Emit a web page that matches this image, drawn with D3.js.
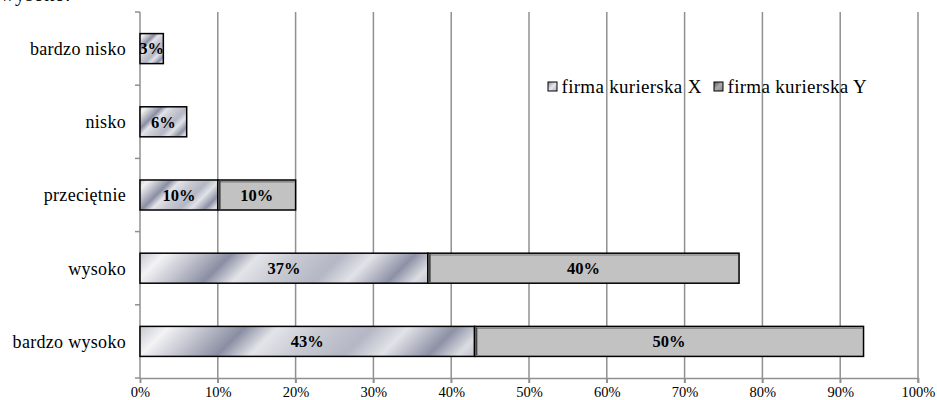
<!DOCTYPE html>
<html>
<head>
<meta charset="utf-8">
<script src="https://cdn.jsdelivr.net/npm/d3@7"></script>
<style>
  html, body { margin: 0; padding: 0; background: #fff; }
  svg { display: block; font-family: "Liberation Serif", "Times New Roman", serif; }
</style>
</head>
<body>
<svg id="chart" width="937" height="400"></svg>
<script>
// Ocena poziomu usług firm kurierskich
const categories = ["bardzo nisko", "nisko", "przeciętnie", "wysoko", "bardzo wysoko"];
const seriesNames = ["firma kurierska X", "firma kurierska Y"];
const valuesX = [3, 6, 10, 37, 43];
const valuesY = [0, 0, 10, 40, 50];
const tickValues = [0, 10, 20, 30, 40, 50, 60, 70, 80, 90, 100];

const svg = d3.select("#chart");
const margin = { left: 140, right: 19, top: 12, bottom: 22 };
const W = 937, H = 400;
const plotBottom = H - margin.bottom;

const x = d3.scaleLinear().domain([0, 100]).range([margin.left, W - margin.right]);
const y = d3.scaleBand().domain(categories).range([margin.top, plotBottom]).paddingInner(0.59).paddingOuter(0.295);
const yb = d3.scaleBand().domain(categories).range([margin.top, plotBottom]);

// fragment of the preceding line of text
svg.append("text").attr("x", 0).attr("y", 1).attr("font-size", 20).attr("letter-spacing", 0.5).text("wysoko.");

const defs = svg.append("defs");
const chromeStops = [
  [0, "#c6c8d1"], [0.08, "#f3f3f5"], [0.2, "#b8bac6"], [0.29, "#8a8ea2"],
  [0.38, "#e3e4e9"], [0.5, "#c8cad3"], [0.64, "#b4b7c4"], [0.74, "#e2e3e8"],
  [0.87, "#8d91a5"], [0.95, "#dcdde2"], [1, "#c2c4ce"]
];

// vertical gridlines (extending below the axis as ticks)
svg.append("g").selectAll("line").data(tickValues.slice(1)).join("line")
  .attr("x1", d => x(d)).attr("x2", d => x(d))
  .attr("y1", margin.top).attr("y2", plotBottom + 5)
  .attr("stroke", "#909090").attr("stroke-width", 1.5);

// bottom axis
const xAxis = d3.axisBottom(x).tickValues(tickValues).tickFormat(d => d + "%").tickSize(5).tickPadding(4);
const gx = svg.append("g").attr("transform", `translate(0,${plotBottom})`).call(xAxis);
gx.select(".domain").attr("stroke", "#909090").attr("stroke-width", 1.5);
gx.selectAll(".tick line").attr("stroke", "#909090").attr("stroke-width", 1.5);
gx.selectAll(".tick text").attr("font-size", 14.5).attr("fill", "#000")
  .attr("font-family", "Liberation Serif, serif");

// left axis with ticks at category boundaries
svg.append("line").attr("x1", x(0)).attr("x2", x(0)).attr("y1", margin.top).attr("y2", plotBottom)
  .attr("stroke", "#909090").attr("stroke-width", 1.5);
const bounds = categories.map(c => yb(c)).concat([plotBottom]);
svg.append("g").selectAll("line").data(bounds).join("line")
  .attr("x1", x(0) - 5).attr("x2", x(0)).attr("y1", d => d).attr("y2", d => d)
  .attr("stroke", "#909090").attr("stroke-width", 1.5);

svg.append("g").selectAll("text").data(categories).join("text")
  .attr("x", x(0) - 14).attr("y", d => y(d) + y.bandwidth() / 2)
  .attr("dy", "0.35em").attr("text-anchor", "end").attr("font-size", 18)
  .attr("letter-spacing", 0.3).text(d => d);

// bars
const rows = categories.map((c, i) => ({ c, a: valuesX[i], b: valuesY[i] }));
const bh = y.bandwidth();

rows.forEach((r, i) => {
  const x0 = x(0), x1 = x(r.a), y0 = y(r.c);
  const w = x1 - x0;
  const L = (w + bh) / 2;
  const g = defs.append("linearGradient").attr("id", "chrome" + i)
    .attr("gradientUnits", "userSpaceOnUse")
    .attr("x1", x0).attr("y1", y0).attr("x2", x0 + L).attr("y2", y0 + L);
  g.selectAll("stop").data(chromeStops).join("stop")
    .attr("offset", d => d[0]).attr("stop-color", d => d[1]);

  svg.append("rect").attr("x", x0).attr("y", y0).attr("width", w).attr("height", bh)
    .attr("fill", `url(#chrome${i})`).attr("stroke", "#000").attr("stroke-width", 1.5);

  if (r.b > 0) {
    const xs = x(r.a), xe = x(r.a + r.b);
    svg.append("rect").attr("x", xs).attr("y", y0).attr("width", xe - xs).attr("height", bh)
      .attr("fill", "#c2c2c2").attr("stroke", "#000").attr("stroke-width", 1.5);
    // bevel shading on inner top and left edges
    svg.append("line").attr("x1", xs + 2).attr("x2", xe - 1).attr("y1", y0 + 1.8).attr("y2", y0 + 1.8)
      .attr("stroke", "#7a7a7a").attr("stroke-width", 1.2);
    svg.append("line").attr("x1", xs + 1.8).attr("x2", xs + 1.8).attr("y1", y0 + 1).attr("y2", y0 + bh - 1)
      .attr("stroke", "#444").attr("stroke-width", 2);
    svg.append("text").attr("x", (xs + xe) / 2).attr("y", y0 + bh / 2).attr("dy", "0.35em")
      .attr("text-anchor", "middle").attr("font-size", 16.5).attr("font-weight", "bold").text(r.b + "%");
  }
  svg.append("text").attr("x", (x0 + x1) / 2).attr("y", y0 + bh / 2).attr("dy", "0.35em")
    .attr("text-anchor", "middle").attr("font-size", 16.5).attr("font-weight", "bold").text(r.a + "%");
});

// legend
const lg = defs.append("linearGradient").attr("id", "legX").attr("x1", 0).attr("y1", 0).attr("x2", 1).attr("y2", 1);
lg.append("stop").attr("offset", 0).attr("stop-color", "#8a8ea0");
lg.append("stop").attr("offset", 0.5).attr("stop-color", "#e6e6ea");
lg.append("stop").attr("offset", 1).attr("stop-color", "#b0b2bc");
const lg2 = defs.append("linearGradient").attr("id", "legY").attr("x1", 0).attr("y1", 0).attr("x2", 1).attr("y2", 1);
lg2.append("stop").attr("offset", 0).attr("stop-color", "#555");
lg2.append("stop").attr("offset", 0.5).attr("stop-color", "#aaa");
lg2.append("stop").attr("offset", 1).attr("stop-color", "#888");

const legend = svg.append("g");
const legendX = [548, 714];
seriesNames.forEach((name, i) => {
  const gx0 = legendX[i];
  legend.append("rect").attr("x", gx0).attr("y", 82).attr("width", 9).attr("height", 9)
    .attr("fill", i === 0 ? "url(#legX)" : "url(#legY)").attr("stroke", "#000").attr("stroke-width", 1);
  legend.append("text").attr("x", gx0 + 13.5).attr("y", 93).attr("font-size", 19)
    .attr("letter-spacing", 0.3).text(name);
});
</script>
</body>
</html>
